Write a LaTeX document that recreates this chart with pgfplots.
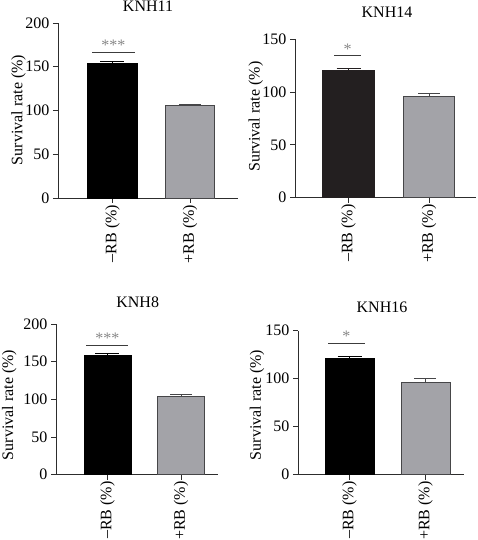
\documentclass[border=0pt]{standalone}
\usepackage{pgfplots}
\pgfplotsset{compat=1.18}
\usepackage{fontspec}
\setmainfont{Liberation Serif}

\definecolor{axisc}{RGB}{45,45,45}
\definecolor{barfill}{RGB}{163,163,168}
\definecolor{baredge}{RGB}{70,70,72}
\definecolor{darkbar}{RGB}{35,31,32}
\definecolor{starc}{RGB}{135,135,135}
\definecolor{sigc}{RGB}{60,60,60}

\newcommand{\bigf}{\fontsize{16}{19}\selectfont}

\tikzset{
  sigline/.style={line width=1pt, color=sigc},
  stars/.style={anchor=base, color=starc, font=\bigf, inner sep=0pt, yshift=1.5pt},
}

\pgfplotsset{
  panel/.style={
    scale only axis, ybar,
    axis x line*=bottom, axis y line*=left,
    axis line style={line width=0.9pt, color=axisc, -},
    tick align=outside, major tick length=5pt,
    tick style={line width=0.9pt, color=axisc},
    ymin=0,
    xtick={0,1},
    xticklabels={–RB (\%), +RB (\%)},
    xticklabel style={rotate=90, anchor=east, font=\bigf, inner sep=1.5pt},
    yticklabel style={font=\bigf},
    /pgf/number format/assume math mode=true,
    clip=false,
    anchor=south west,
  },
  darkbar/.style={fill=#1, draw=#1, line width=0.8pt, bar shift=0pt,
    error bars/.cd, y dir=plus, y explicit, error mark=|,
    error bar style={line width=1pt, color=#1},
    error mark options={line width=1pt, mark size=12pt, color=#1}},
  greybar/.style={fill=barfill, draw=baredge, line width=0.8pt, bar shift=0pt,
    error bars/.cd, y dir=plus, y explicit, error mark=|,
    error bar style={line width=1pt, color=baredge},
    error mark options={line width=1pt, mark size=11pt, color=baredge}},
}

\begin{document}
\begin{tikzpicture}[font=\bigf]

% KNH11
\begin{axis}[panel, at={(58pt,342pt)}, width=180pt, height=175pt,
  ymax=200, ytick={0,50,100,150,200}, xmin=-0.703, xmax=1.619, bar width=0.64]
  \addplot[darkbar=black] coordinates {(0,154) +- (0,1.5)};
  \addplot[greybar] coordinates {(1,105.5) +- (0,1.8)};
  \draw[sigline] (axis cs:-0.26,166.5) -- (axis cs:0.29,166.5);
  \node[stars] at (axis cs:0.01,166.5) {***};
\end{axis}

% KNH14
\begin{axis}[panel, at={(295pt,342.3pt)}, width=181pt, height=158.4pt,
  ymax=150, ytick={0,50,100,150}, xmin=-0.665, xmax=1.584, bar width=0.64]
  \addplot[darkbar=darkbar] coordinates {(0,121) +- (0,1.2)};
  \addplot[greybar] coordinates {(1,96.3) +- (0,2)};
  \draw[sigline] (axis cs:-0.18,134.6) -- (axis cs:0.155,134.6);
  \node[stars] at (axis cs:-0.01,134.6) {*};
\end{axis}

% KNH8
\begin{axis}[panel, at={(56pt,65.3pt)}, width=162pt, height=150.7pt,
  ymax=200, ytick={0,50,100,150,200}, xmin=-0.70, xmax=1.503, bar width=0.64]
  \addplot[darkbar=black] coordinates {(0,158) +- (0,3)};
  \addplot[greybar] coordinates {(1,104.5) +- (0,1.5)};
  \draw[sigline] (axis cs:-0.29,172) -- (axis cs:0.28,172);
  \node[stars] at (axis cs:0,172) {***};
\end{axis}

% KNH16
\begin{axis}[panel, at={(298pt,65.3pt)}, width=166pt, height=144pt,
  ymax=150, ytick={0,50,100,150}, xmin=-0.678, xmax=1.507, bar width=0.645]
  \addplot[darkbar=black] coordinates {(0,121) +- (0,2.5)};
  \addplot[greybar] coordinates {(1,96.5) +- (0,3.5)};
  \draw[sigline] (axis cs:-0.28,136.8) -- (axis cs:0.2,136.8);
  \node[stars] at (axis cs:-0.04,136.8) {*};
\end{axis}

% panel titles
\node[anchor=base] at (148pt,528pt) {KNH11};
\node[anchor=base] at (387pt,522.7pt) {KNH14};
\node[anchor=base] at (137.7pt,232.7pt) {KNH8};
\node[anchor=base] at (382pt,227.7pt) {KNH16};

% y axis titles
\node[rotate=90] at (18.5pt,430pt) {Survival rate (\%)};
\node[rotate=90] at (255.8pt,423.3pt) {Survival rate (\%)};
\node[rotate=90] at (9.2pt,135pt) {Survival rate (\%)};
\node[rotate=90] at (257pt,135pt) {Survival rate (\%)};

\pgfresetboundingbox
\path[use as bounding box] (0pt,0pt) rectangle (477pt,540pt);
\end{tikzpicture}
\end{document}
